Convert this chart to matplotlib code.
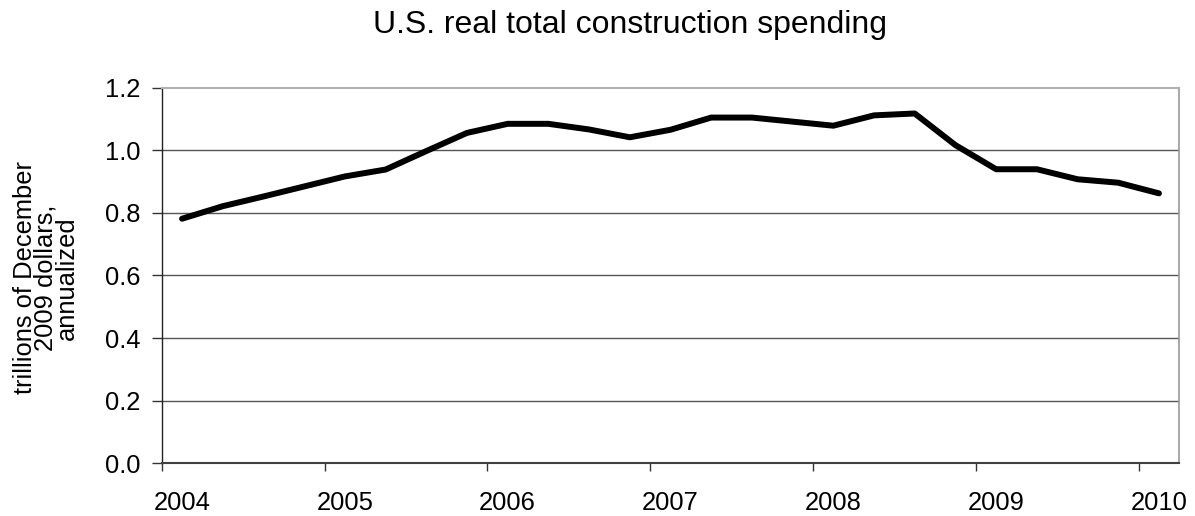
import numpy as np
import matplotlib
matplotlib.use("Agg")
import matplotlib.pyplot as plt
from matplotlib.ticker import FixedLocator

plt.rcParams['font.family'] = ['Liberation Sans', 'DejaVu Sans']

# quarterly, 2004Q1 .. 2010Q1
quarters = ["2004Q1", "2004Q2", "2004Q3", "2004Q4",
            "2005Q1", "2005Q2", "2005Q3", "2005Q4",
            "2006Q1", "2006Q2", "2006Q3", "2006Q4",
            "2007Q1", "2007Q2", "2007Q3", "2007Q4",
            "2008Q1", "2008Q2", "2008Q3", "2008Q4",
            "2009Q1", "2009Q2", "2009Q3", "2009Q4",
            "2010Q1"]
spending = [0.781, 0.821, 0.852, 0.884, 0.916, 0.938, 0.997, 1.055,
            1.084, 1.084, 1.066, 1.041, 1.065, 1.104, 1.104, 1.091,
            1.078, 1.111, 1.117, 1.016, 0.939, 0.939, 0.907, 0.896,
            0.862]
year_labels = ["2004", "2005", "2006", "2007", "2008", "2009", "2010"]

fig = plt.figure(figsize=(11.95, 5.16), dpi=100)
ax = fig.add_axes([161.7/1195, 1 - 463.3/516, (1179.3 - 161.7)/1195, (463.3 - 87.5)/516])

x = np.arange(len(quarters))
ax.plot(x, spending, color='black', lw=4.3, solid_capstyle='round', zorder=3)

ax.set_xlim(-0.5, len(quarters) - 0.5)
ax.set_ylim(0, 1.2)

# labels on the first quarter of each year, ticks between categories
ax.set_xticks(x[::4])
ax.set_xticklabels(year_labels, fontsize=18.4)
ax.tick_params(axis='x', which='major', length=0, pad=20)
ax.xaxis.set_minor_locator(FixedLocator(np.arange(-0.5, len(quarters) - 1, 4)))
ax.tick_params(axis='x', which='minor', length=6, width=1, color='#333333', direction='out')

ax.set_yticks(np.arange(0, 1.21, 0.2))
ax.set_yticklabels(["%.1f" % v for v in np.arange(0, 1.21, 0.2)], fontsize=18.4)
ax.tick_params(axis='y', length=7, width=1, color='#333333', pad=8)

for v in np.arange(0.2, 1.01, 0.2):
    ax.axhline(v, color='#555555', lw=1, zorder=1)

ax.spines['bottom'].set_color('#404040')
ax.spines['bottom'].set_linewidth(1.5)
ax.spines['top'].set_color('#b0b0b0')
ax.spines['top'].set_linewidth(1.5)
ax.spines['right'].set_color('#999999')
ax.spines['right'].set_linewidth(1.2)
ax.spines['left'].set_color('#222222')
ax.spines['left'].set_linewidth(1.0)

fig.text(630/1195, 1 - 32.5/516, "U.S. real total construction spending",
         fontsize=23, ha='center', va='baseline')
fig.text(46/1195, 1 - 278/516, "trillions of December\n2009 dollars,\nannualized",
         fontsize=18.4, rotation=90, ha='center', va='center',
         multialignment='center', linespacing=0.86)

fig.savefig("out.png", dpi=100)
